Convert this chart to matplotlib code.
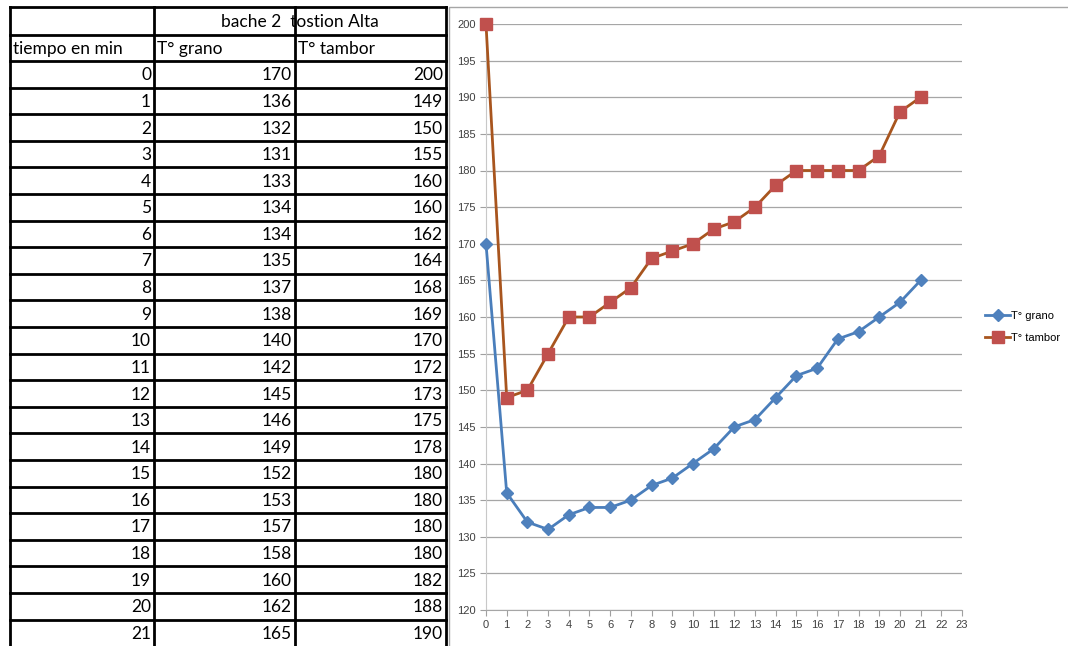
import matplotlib
matplotlib.use("Agg")
import matplotlib.pyplot as plt

# ---- data ----
tiempo = list(range(22))
t_grano = [170, 136, 132, 131, 133, 134, 134, 135, 137, 138, 140, 142, 145, 146, 149, 152, 153, 157, 158, 160, 162, 165]
t_tambor = [200, 149, 150, 155, 160, 160, 162, 164, 168, 169, 170, 172, 173, 175, 178, 180, 180, 180, 180, 182, 188, 190]
title_text = "bache 2  tostion Alta"
col_headers = ["tiempo en min", "T° grano", "T° tambor"]
series_names = ["T° grano", "T° tambor"]
y_ticks = list(range(120, 201, 5))
x_ticks = list(range(0, 24))

W, H = 1068, 646
fig = plt.figure(figsize=(W / 100, H / 100), dpi=100)

table_font = ["Lato", "DejaVu Sans"]
chart_font = ["Liberation Sans Narrow", "Liberation Sans", "DejaVu Sans"]

# ---- table (overlay axes in pixel coords) ----
tab = fig.add_axes([0, 0, 1, 1])
tab.set_xlim(0, W)
tab.set_ylim(H, 0)
tab.axis("off")

cx = [10, 154, 295, 446]
top = 7
r1 = 35
r2 = 61
rh = 26.6
lw = 2.0
k = "black"
tab.plot([cx[0], cx[3]], [top, top], color=k, lw=lw)
tab.plot([cx[0], cx[3]], [r1, r1], color=k, lw=lw)
for x in cx:
    tab.plot([x, x], [top, H], color=k, lw=lw)
n = len(tiempo)
for i in range(n + 1):
    yy = r2 + i * rh
    if yy <= H:
        tab.plot([cx[0], cx[3]], [yy, yy], color=k, lw=lw)

fs = 12.5
tab.text((cx[1] + cx[3]) / 2, (top + r1) / 2 + 1, title_text, ha="center", va="center",
         fontsize=fs, family=table_font)
for j, h in enumerate(col_headers):
    tab.text(cx[j] + 3, (r1 + r2) / 2 + 1, h, ha="left", va="center", fontsize=fs, family=table_font)
for i in range(n):
    yc = r2 + i * rh + rh / 2 + 1
    vals = [tiempo[i], t_grano[i], t_tambor[i]]
    for j, v in enumerate(vals):
        tab.text(cx[j + 1] - 3, yc, str(v), ha="right", va="center", fontsize=fs, family=table_font)

# chart area border
tab.plot([449, 449, W], [H, 7, 7], color="#A6A6A6", lw=1.0)

# ---- chart ----
x0, x23 = 486, 962
yt, yb = 24, 610
ax = fig.add_axes([x0 / W, (H - yb) / H, (x23 - x0) / W, (yb - yt) / H])
ax.set_xlim(0, 23)
ax.set_ylim(120, 200)
ax.set_xticks(x_ticks)
ax.set_yticks(y_ticks)
ax.tick_params(axis="both", labelsize=8, labelcolor="#404040", length=4, width=0.8,
               direction="out", color="#A0A0A0")
for lab in ax.get_xticklabels() + ax.get_yticklabels():
    lab.set_family(chart_font)
ax.grid(axis="y", color="#A6A6A6", lw=0.9)
ax.set_axisbelow(True)
for s in ["top", "right"]:
    ax.spines[s].set_visible(False)
ax.spines["left"].set_color("#C8C8C8")
ax.spines["bottom"].set_color("#A6A6A6")

ax.plot(tiempo, t_grano, color="#4A7EBB", lw=2.0, marker="D", markersize=6,
        markerfacecolor="#4F81BD", markeredgecolor="#4F81BD", label=series_names[0], clip_on=False, zorder=3)
ax.plot(tiempo, t_tambor, color="#A8551E", lw=2.0, marker="s", markersize=8,
        markerfacecolor="#C0504D", markeredgecolor="#C0504D", label=series_names[1], clip_on=False, zorder=3)

ax.legend(loc="center left", bbox_to_anchor=((981 - x0) / (x23 - x0), 1 - (327 - yt) / (yb - yt)),
          frameon=False, prop={"family": chart_font, "size": 8}, handlelength=2.2,
          handletextpad=0.1, labelspacing=1.1, borderaxespad=0)

fig.savefig("out.png", dpi=100)
